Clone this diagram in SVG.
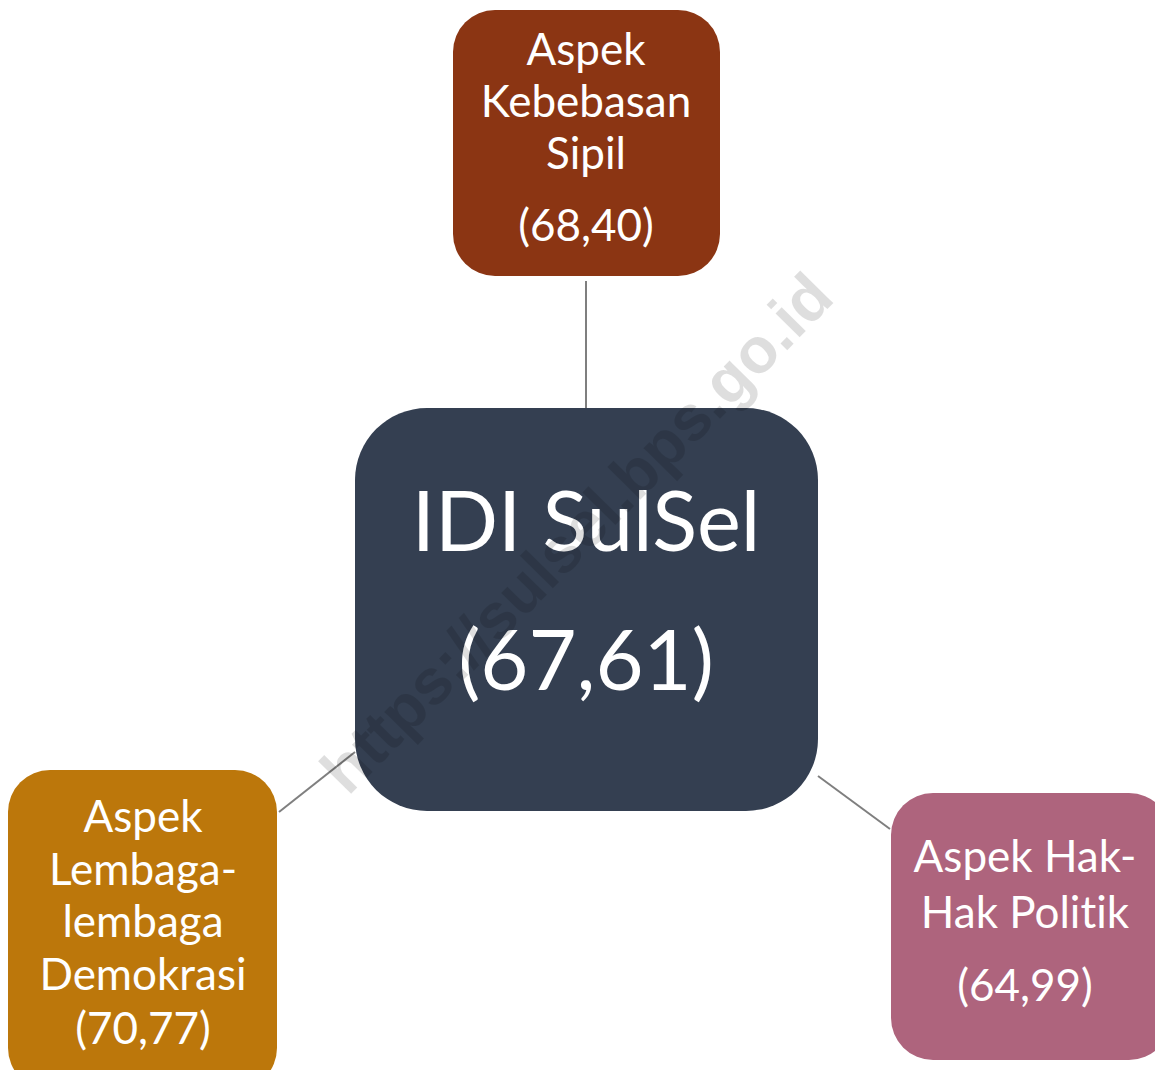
<svg xmlns="http://www.w3.org/2000/svg" width="1155" height="1070" viewBox="0 0 1155 1070">
  <style>
    .lbl { font-family: Lato, "Open Sans", "Liberation Sans", sans-serif; fill: #ffffff; text-anchor: middle; font-variant-ligatures: none; }
    .sm { font-size: 44px; }
    .big { font-size: 83px; }
    .link { stroke: #7f7f7f; stroke-width: 2; fill: none; }
    .wm { font-family: "Liberation Sans", Arial, sans-serif; font-weight: bold; font-size: 64px; fill: #000000; fill-opacity: 0.13; }
  </style>
  <rect width="1155" height="1070" fill="#ffffff"/>

  <!-- connectors from the centre box to each aspect -->
  <g id="connectors">
    <line class="link" x1="586" y1="281" x2="586" y2="408"/>
    <line class="link" x1="279" y1="812" x2="355" y2="752"/>
    <line class="link" x1="818" y1="776" x2="890" y2="829"/>
  </g>

  <g id="node-center">
    <rect x="355" y="408" width="463" height="403" rx="72" fill="#343f51"/>
    <text class="lbl big" x="586" y="551">IDI SulSel</text>
    <text class="lbl big" x="586" y="690">(67,61)</text>
  </g>

  <g id="node-kebebasan-sipil">
    <rect x="453" y="10" width="267" height="266" rx="42" fill="#8b3513"/>
    <text class="lbl sm" x="586" y="65">Aspek</text>
    <text class="lbl sm" x="586" y="117">Kebebasan</text>
    <text class="lbl sm" x="586" y="169">Sipil</text>
    <text class="lbl sm" x="586" y="241">(68,40)</text>
  </g>

  <g id="node-lembaga-demokrasi">
    <rect x="8" y="770" width="269" height="320" rx="42" fill="#bc770b"/>
    <text class="lbl sm" x="143" y="832">Aspek</text>
    <text class="lbl sm" x="143" y="885">Lembaga-</text>
    <text class="lbl sm" x="143" y="937">lembaga</text>
    <text class="lbl sm" x="143" y="990">Demokrasi</text>
    <text class="lbl sm" x="143" y="1044">(70,77)</text>
  </g>

  <g id="node-hak-politik">
    <rect x="891" y="793" width="280" height="267" rx="42" fill="#ae647d"/>
    <text class="lbl sm" x="1025" y="872">Aspek Hak-</text>
    <text class="lbl sm" x="1025" y="928">Hak Politik</text>
    <text class="lbl sm" x="1025" y="1001">(64,99)</text>
  </g>

  <!-- site watermark -->
  <text class="wm" transform="translate(348,797) rotate(-45.5)">https://sulsel.bps.go.id</text>
</svg>
